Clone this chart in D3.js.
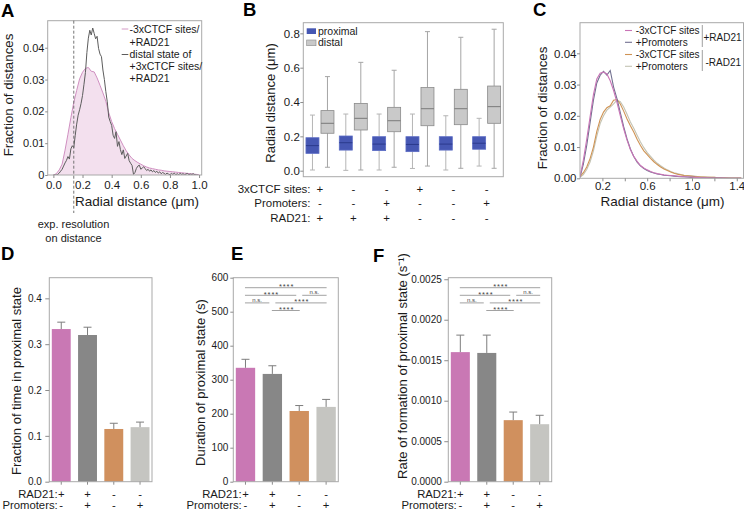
<!DOCTYPE html>
<html><head><meta charset="utf-8">
<script src="https://cdn.jsdelivr.net/npm/d3@7"></script>
<style>body{margin:0;background:#fff}svg{display:block}text{font-family:"Liberation Sans",Arial,Helvetica,sans-serif}</style>
</head><body><svg id="c" width="744" height="512"></svg>
<script>
// ---------- DATA ----------
// Panel A
const aPinkX = [0,0.02,0.04,0.06,0.08,0.10,0.12,0.14,0.16,0.18,0.20,0.22,0.24,0.26,0.28,0.30,0.32,0.34,0.36,0.38,0.40,0.42,0.44,0.46,0.48,0.50,0.52,0.54,0.56,0.58,0.60,0.62,0.64,0.66,0.68,0.70,0.72,0.74,0.76,0.78,0.80,0.82,0.84,0.86,0.88,0.90,0.92,0.94,0.96,0.98,1.00];
const aPinkY = [0,0.0004,0.0016,0.0034,0.0078,0.0128,0.0180,0.0228,0.0266,0.0302,0.0323,0.0335,0.0338,0.0326,0.0324,0.0305,0.0282,0.0258,0.0232,0.0196,0.0168,0.0146,0.0128,0.0110,0.0092,0.0076,0.0063,0.0052,0.0045,0.0039,0.0034,0.0029,0.0025,0.0022,0.0020,0.0018,0.0016,0.0015,0.0013,0.0012,0.0011,0.0010,0.0009,0.0008,0.0007,0.0006,0.0005,0.0004,0.0003,0.0002,0.0001];
const aDistX = [0,0.01,0.02,0.03,0.04,0.05,0.06,0.07,0.08,0.09,0.10,0.11,0.12,0.13,0.14,0.15,0.16,0.17,0.18,0.19,0.20,0.21,0.22,0.23,0.24,0.25,0.26,0.27,0.28,0.29,0.30,0.31,0.32,0.33,0.34,0.35,0.36,0.37,0.38,0.39,0.40,0.41,0.42,0.43,0.44,0.45,0.46,0.47,0.48,0.49,0.50,0.51,0.52,0.53,0.54,0.55,0.56,0.57,0.58,0.59,0.60,0.61,0.62,0.63,0.64,0.65,0.66,0.67,0.68,0.69,0.70,0.71,0.72,0.73,0.74,0.75,0.76,0.77,0.78,0.79,0.80,0.81,0.82,0.83,0.84,0.85,0.86,0.87,0.88,0.89,0.90,0.91,0.92,0.93,0.94,0.95,0.96,0.97,0.98,0.99];
const aDistY = [0,0,0,0.0002,0.0006,0.0012,0.0018,0.0028,0.0038,0.0046,0.0058,0.0050,0.0082,0.0092,0.0086,0.0125,0.0160,0.0188,0.0205,0.0225,0.0250,0.0285,0.0322,0.0385,0.0430,0.0455,0.0440,0.0462,0.0445,0.0428,0.0436,0.0398,0.0380,0.0372,0.0330,0.0300,0.0262,0.0230,0.0182,0.0168,0.0156,0.0125,0.0115,0.0136,0.0090,0.0105,0.0080,0.0064,0.0079,0.0052,0.0060,0.0068,0.0045,0.0037,0.0030,0.0002,0.0008,0.0021,0.0028,0.0031,0.0018,0.0022,0.0026,0.0020,0.0014,0.0018,0.0012,0.0016,0.0010,0.0014,0.0008,0.0012,0.0006,0.0010,0.0004,0.0008,0.0005,0.0002,0.0006,0.0003,0.0001,0.0005,0.0002,0.0006,0.0001,0.0004,0.0001,0.0005,0.0002,0.0004,0.0001,0.0003,0.0005,0.0001,0.0003,0.0002,0.0004,0.0001,0,0];
const aResolution = 0.14;
const aXTicks = [0,0.2,0.4,0.6,0.8,1.0];
const aYTicks = [0,0.01,0.02,0.03,0.04];

// Panel B
const bProxLo  = [0.004,0.002,0.004,0.013,0.004,0.027];
const bProxQ1  = [0.101,0.120,0.117,0.111,0.120,0.125];
const bProxMed = [0.146,0.163,0.155,0.153,0.155,0.160];
const bProxQ3  = [0.192,0.202,0.198,0.198,0.198,0.198];
const bProxHi  = [0.324,0.330,0.330,0.330,0.320,0.305];
const bDistLo  = [0.020,0.004,0.020,0.027,0.014,0.014];
const bDistQ1  = [0.218,0.237,0.227,0.262,0.268,0.276];
const bDistMed = [0.276,0.305,0.291,0.361,0.361,0.373];
const bDistQ3  = [0.350,0.392,0.369,0.484,0.474,0.493];
const bDistHi  = [0.548,0.631,0.585,0.810,0.777,0.824];
const bCTCF = ["+","-","-","+","-","-"];
const bProm = ["-","-","+","-","-","+"];
const bRad  = ["+","+","+","-","-","-"];
const bYTicks = [0,0.2,0.4,0.6,0.8];

// Panel C
const cX = [0,0.03,0.06,0.09,0.12,0.15,0.18,0.21,0.24,0.27,0.30,0.33,0.36,0.39,0.42,0.45,0.48,0.51,0.54,0.57,0.60,0.63,0.66,0.69,0.72,0.75,0.78,0.81,0.84,0.87,0.90,0.93,0.96,0.99,1.02,1.05,1.08,1.11,1.14,1.17,1.20,1.23,1.26,1.29,1.32,1.35,1.38,1.41,1.44];
const cRadCtcf = [0.0005,0.0058,0.0125,0.0197,0.0268,0.0318,0.0336,0.0340,0.0334,0.0312,0.0281,0.0243,0.0200,0.0158,0.0122,0.0092,0.0070,0.0054,0.0041,0.0033,0.0027,0.0022,0.0018,0.0015,0.0013,0.0011,0.0010,0.0009,0.0008,0.0007,0.0006,0.0005,0.0004,0.0004,0.0003,0.0003,0.0002,0.0002,0.0002,0.0001,0.0001,0.0001,0.0001,0.0001,0,0,0,0,0];
const cRadProm = [0.0003,0.0045,0.0105,0.0178,0.0250,0.0305,0.0330,0.0342,0.0330,0.0345,0.0292,0.0255,0.0210,0.0165,0.0126,0.0094,0.0070,0.0052,0.0040,0.0031,0.0025,0.0020,0.0017,0.0014,0.0012,0.0010,0.0009,0.0008,0.0007,0.0006,0.0005,0.0005,0.0004,0.0003,0.0003,0.0002,0.0002,0.0002,0.0001,0.0001,0.0001,0.0001,0.0001,0,0,0,0,0,0];
const cNoRadCtcf = [0.0005,0.0018,0.0036,0.0063,0.0100,0.0150,0.0188,0.0212,0.0226,0.0232,0.0250,0.0252,0.0238,0.0215,0.0190,0.0168,0.0148,0.0125,0.0105,0.0088,0.0076,0.0064,0.0053,0.0044,0.0036,0.0030,0.0025,0.0020,0.0016,0.0013,0.0011,0.0009,0.0008,0.0007,0.0006,0.0005,0.0004,0.0004,0.0003,0.0003,0.0003,0.0002,0.0002,0.0002,0.0001,0.0001,0.0001,0.0001,0.0001];
const cNoRadProm = [0.0003,0.0012,0.0028,0.0052,0.0088,0.0135,0.0175,0.0200,0.0218,0.0228,0.0238,0.0250,0.0245,0.0228,0.0205,0.0180,0.0160,0.0138,0.0116,0.0098,0.0082,0.0070,0.0058,0.0048,0.0040,0.0033,0.0027,0.0022,0.0018,0.0015,0.0012,0.0010,0.0009,0.0008,0.0007,0.0006,0.0005,0.0004,0.0004,0.0003,0.0003,0.0002,0.0002,0.0002,0.0002,0.0001,0.0001,0.0001,0.0001];
const cXTicks = [0.2,0.4,0.6,0.8,1.0,1.2,1.4];
const cXLabels = [0.2,0.6,1.0,1.4];
const cYTicks = [0,0.01,0.02,0.03,0.04];

// Panels D, E, F
const condRad  = ["+","+","-","-"];
const condProm = ["-","+","-","+"];
const dVal = [0.333,0.320,0.115,0.119];
const dErr = [0.015,0.017,0.0125,0.011];
const eVal = [335,317,208,220];
const eErr = [25,24,16,22];
const fVal = [0.00160,0.00159,0.00076,0.00071];
const fErr = [0.00021,0.00022,0.00010,0.00011];
const dYTicks = [0,0.1,0.2,0.3,0.4];
const eYTicks = [0,100,200,300,400,500,600];
const fYTicks = [0,0.0005,0.0010,0.0015,0.0020,0.0025];
// comparisons: [barA, barB, label, level]
const sigTests = [[0,3,"****",0],[0,2,"****",1],[2,3,"n.s.",1],[0,1,"n.s.",2],[1,3,"****",2],[1,2,"****",3]];

// ---------- DRAWING ----------
const FONT = '"Liberation Sans", Arial, Helvetica, sans-serif';
const svg = d3.select("#c");
svg.append("rect").attr("width",744).attr("height",512).attr("fill","#fff");
const FRAME = "#a9a9a9", TICK = "#8c8c8c";
const colPink = "#c978b4", colGray = "#878787", colOrange = "#d0905e", colLight = "#c5c5c1";

function text(x, y, s, o = {}) {
  const t = svg.append("text").attr("x", x).attr("y", y).text(s)
    .style("font-size", (o.fs || 11) + "px").attr("fill", o.fill || "#1a1a1a")
    .attr("text-anchor", o.anchor || "start");
  if (o.bold) t.style("font-weight", "bold");
  if (o.ls) t.style("letter-spacing", o.ls + "px");
  return t;
}
function vtext(x, y, s, fs) {
  svg.append("text").attr("transform", `translate(${x},${y}) rotate(-90)`)
    .attr("text-anchor", "middle").attr("dominant-baseline", "central")
    .style("font-size", fs + "px").attr("fill", "#1a1a1a").text(s);
}
function frame(x0, y0, x1, y1) {
  svg.append("rect").attr("x", x0).attr("y", y0).attr("width", x1 - x0).attr("height", y1 - y0)
    .attr("fill", "none").attr("stroke", FRAME).attr("stroke-width", 1);
}
function styleAxis(g, fs) {
  g.select(".domain").remove();
  g.selectAll(".tick line").attr("stroke", TICK);
  g.selectAll(".tick text").attr("fill", "#1a1a1a").style("font-size", fs + "px").style("font-family", FONT);
}
function clip(id, x0, y0, x1, y1) {
  svg.append("clipPath").attr("id", id).append("rect").attr("x", x0).attr("y", y0).attr("width", x1 - x0).attr("height", y1 - y0);
}

// ===== Panel A =====
{
  const L = 47.7, T = 20.7, R = 201.7, B = 175;
  const x = d3.scaleLinear([-0.039, 1.018], [L, R]);
  const y = d3.scaleLinear([0, 0.0485], [B, T]);
  clip("clipA", L, T, R, B);
  const pink = aPinkX.map((v, i) => [v, aPinkY[i]]);
  const dist = aDistX.map((v, i) => [v, aDistY[i]]);
  const gA = svg.append("g").attr("clip-path", "url(#clipA)");
  gA.append("path").datum(pink).attr("fill", "#f3e0ee")
    .attr("d", d3.area().x(d => x(d[0])).y0(y(0)).y1(d => y(d[1])));
  gA.append("path").datum(pink).attr("fill", "none").attr("stroke", "#cf8fc0").attr("stroke-width", 1)
    .attr("d", d3.line().x(d => x(d[0])).y(d => y(d[1])));
  gA.append("path").datum(dist).attr("fill", "none").attr("stroke", "#5c5c5c").attr("stroke-width", 1)
    .attr("d", d3.line().x(d => x(d[0])).y(d => y(d[1])));
  frame(L, T, R, B);
  svg.append("line").attr("x1", x(aResolution)).attr("x2", x(aResolution)).attr("y1", T).attr("y2", 213)
    .attr("stroke", "#666").attr("stroke-width", 0.9).attr("stroke-dasharray", "3,2");
  styleAxis(svg.append("g").attr("transform", `translate(${L},0)`)
    .call(d3.axisLeft(y).tickValues(aYTicks).tickSize(2.5).tickPadding(0.8).tickFormat(d => d === 0 ? "0" : d3.format(".2f")(d))), 11);
  styleAxis(svg.append("g").attr("transform", `translate(0,${B})`)
    .call(d3.axisBottom(x).tickValues(aXTicks).tickSize(3).tickPadding(2.5).tickFormat(d3.format(".1f"))), 11.5);
  vtext(8.5, 95, "Fraction of distances", 13.3);
  text(137, 206, "Radial distance (μm)", { fs: 13.5, anchor: "middle" });
  text(73.5, 228, "exp. resolution", { fs: 11, anchor: "middle" });
  text(73.5, 242, "on distance", { fs: 11, anchor: "middle" });
  // legend
  svg.append("line").attr("x1", 121.7).attr("x2", 128.3).attr("y1", 29).attr("y2", 29).attr("stroke", "#d49ac6").attr("stroke-width", 1);
  svg.append("line").attr("x1", 121.7).attr("x2", 128.3).attr("y1", 54.5).attr("y2", 54.5).attr("stroke", "#5c5c5c").attr("stroke-width", 1);
  const leg = ["-3xCTCF sites/", "+RAD21", "distal state of", "+3xCTCF sites/", "+RAD21"];
  const legY = [32.5, 45.5, 58, 70, 82];
  leg.forEach((s, i) => text(129.5, legY[i], s, { fs: 10.5 }));
  text(1, 17, "A", { fs: 18.5, bold: true, fill: "#000" });
}

// ===== Panel B =====
{
  const L = 303.3, T = 22.7, R = 503.3, B = 176.7;
  const y = d3.scaleLinear([-0.035, 0.862], [B, T]);
  const x = d3.scaleBand(d3.range(6), [L, R]);
  const bw = 13, off = 7.5;
  const groups = d3.range(6);
  function boxes(dx, lo, q1, med, q3, hi, fill, stroke, medCol, whisk) {
    const g = svg.append("g");
    groups.forEach(i => {
      const cx = x(i) + x.bandwidth() / 2 + dx;
      g.append("line").attr("x1", cx).attr("x2", cx).attr("y1", y(hi[i])).attr("y2", y(q3[i])).attr("stroke", whisk).attr("stroke-width", 1);
      g.append("line").attr("x1", cx).attr("x2", cx).attr("y1", y(q1[i])).attr("y2", y(lo[i])).attr("stroke", whisk).attr("stroke-width", 1);
      g.append("line").attr("x1", cx - 2.5).attr("x2", cx + 2.5).attr("y1", y(hi[i])).attr("y2", y(hi[i])).attr("stroke", whisk);
      g.append("line").attr("x1", cx - 2.5).attr("x2", cx + 2.5).attr("y1", y(lo[i])).attr("y2", y(lo[i])).attr("stroke", whisk);
      g.append("rect").attr("x", cx - bw / 2).attr("y", y(q3[i])).attr("width", bw).attr("height", y(q1[i]) - y(q3[i]))
        .attr("fill", fill).attr("stroke", stroke).attr("stroke-width", 0.8);
      g.append("line").attr("x1", cx - bw / 2).attr("x2", cx + bw / 2).attr("y1", y(med[i])).attr("y2", y(med[i])).attr("stroke", medCol).attr("stroke-width", 1);
    });
  }
  boxes(-off, bProxLo, bProxQ1, bProxMed, bProxQ3, bProxHi, "#4657b3", "#5a6bc4", "#2b3a8c", "#b5b5b5");
  boxes(off, bDistLo, bDistQ1, bDistMed, bDistQ3, bDistHi, "#c9c9c9", "#8a8a8a", "#7a7a7a", "#a5a5a5");
  frame(L, T, R, B);
  styleAxis(svg.append("g").attr("transform", `translate(${L},0)`)
    .call(d3.axisLeft(y).tickValues(bYTicks).tickSize(3).tickPadding(0.5).tickFormat(d3.format(".1f"))), 11.5);
  vtext(270, 103, "Radial distance (μm)", 13);
  // legend
  svg.append("rect").attr("x", 306.7).attr("y", 28.3).attr("width", 9.3).attr("height", 5.7).attr("fill", "#4657b3");
  svg.append("rect").attr("x", 306.7).attr("y", 40).attr("width", 9.3).attr("height", 5.7).attr("fill", "#c9c9c9").attr("stroke", "#8a8a8a").attr("stroke-width", 0.6);
  text(318, 34.5, "proximal", { fs: 10.5 });
  text(318, 46.3, "distal", { fs: 10.5 });
  // condition rows
  const rows = [["3xCTCF sites:", bCTCF, 192.5], ["Promoters:", bProm, 207.2], ["RAD21:", bRad, 221.8]];
  rows.forEach(([lab, vals, yy]) => {
    text(310.5, yy, lab, { fs: 11.5, anchor: "end" });
    vals.forEach((v, i) => text(x(i) + x.bandwidth() / 2, yy, v, { fs: 11.5, anchor: "middle" }));
  });
  text(243, 16, "B", { fs: 18.5, bold: true, fill: "#000" });
}

// ===== Panel C =====
{
  const L = 580, T = 22.7, R = 743.5, B = 178.3;
  const x = d3.scaleLinear([0, 1.46], [L, R]);
  const y = d3.scaleLinear([0, 0.0498], [B, T]);
  clip("clipC", L, T, R, B);
  const g = svg.append("g").attr("clip-path", "url(#clipC)");
  const series = [[cNoRadProm, "#c3c3b3"], [cNoRadCtcf, "#cf9354"], [cRadProm, "#727090"], [cRadCtcf, "#c974b6"]];
  series.forEach(([vals, col]) => {
    g.append("path").datum(cX.map((v, i) => [v, vals[i]])).attr("fill", "none").attr("stroke", col).attr("stroke-width", 1.1)
      .attr("d", d3.line().x(d => x(d[0])).y(d => y(d[1])));
  });
  frame(L, T, R, B);
  styleAxis(svg.append("g").attr("transform", `translate(${L},0)`)
    .call(d3.axisLeft(y).tickValues(cYTicks).tickSize(3).tickPadding(0.5).tickFormat(d3.format(".2f"))), 11.5);
  styleAxis(svg.append("g").attr("transform", `translate(0,${B})`)
    .call(d3.axisBottom(x).tickValues(cXTicks).tickSize(3).tickPadding(0.5)
      .tickFormat(d => cXLabels.some(v => Math.abs(v - d) < 1e-9) ? d3.format(".1f")(d) : "")), 11.5);
  vtext(542.5, 108, "Fraction of distances", 13.3);
  text(662.5, 206, "Radial distance (μm)", { fs: 13.5, anchor: "middle" });
  const legCols = ["#c974b6", "#727090", "#cf9354", "#c3c3b3"];
  const legTxt = ["-3xCTCF sites", "+Promoters", "-3xCTCF sites", "+Promoters"];
  const legY = [34, 45.8, 58, 69.8];
  legTxt.forEach((s, i) => {
    svg.append("line").attr("x1", 625).attr("x2", 632).attr("y1", legY[i] - 3.5).attr("y2", legY[i] - 3.5).attr("stroke", legCols[i]).attr("stroke-width", 1.1);
    text(635.7, legY[i], s, { fs: 10 });
  });
  svg.append("line").attr("x1", 702.3).attr("x2", 702.3).attr("y1", 25).attr("y2", 47).attr("stroke", "#888").attr("stroke-width", 0.8);
  svg.append("line").attr("x1", 702.3).attr("x2", 702.3).attr("y1", 50).attr("y2", 71).attr("stroke", "#888").attr("stroke-width", 0.8);
  text(703.5, 40.5, "+RAD21", { fs: 10 });
  text(705.5, 66, "-RAD21", { fs: 10 });
  text(533, 16, "C", { fs: 18.5, bold: true, fill: "#000" });
}

// ===== Panels D, E, F =====
function barPanel(o) {
  const { L, T = 277.7, R, B = 481.7, domainTop, vals, errs, ticks, fmt, ylab, ylx, yly, title, tx, ty, lPad, tSize, sig } = o;
  const y = d3.scaleLinear([0, domainTop], [B, T]);
  const x = d3.scaleBand(d3.range(4), [L + 2.5, R - 2.5]).paddingInner(0.28).paddingOuter(0);
  const cols = [colPink, colGray, colOrange, colLight];
  vals.forEach((v, i) => {
    const cx = x(i) + x.bandwidth() / 2;
    svg.append("rect").attr("x", x(i)).attr("y", y(v)).attr("width", x.bandwidth()).attr("height", y(0) - y(v)).attr("fill", cols[i]);
    svg.append("line").attr("x1", cx).attr("x2", cx).attr("y1", y(v)).attr("y2", y(v + errs[i])).attr("stroke", "#7d7d7d").attr("stroke-width", 1);
    svg.append("line").attr("x1", cx - 4).attr("x2", cx + 4).attr("y1", y(v + errs[i])).attr("y2", y(v + errs[i])).attr("stroke", "#7d7d7d").attr("stroke-width", 1);
  });
  frame(L, T, R, B);
  styleAxis(svg.append("g").attr("transform", `translate(${L},0)`)
    .call(d3.axisLeft(y).tickValues(ticks).tickSize(tSize).tickPadding(lPad).tickFormat(fmt)), 10);
  const bx = svg.append("g").attr("transform", `translate(0,${B})`)
    .call(d3.axisBottom(x).tickSize(3).tickFormat(""));
  styleAxis(bx, 10);
  vtext(ylx, yly, ylab, 13);
  [["RAD21:", condRad, 497.8], ["Promoters:", condProm, 508.8]].forEach(([lab, vs, yy]) => {
    text(L + 8.4, yy, lab, { fs: 11.3, anchor: "end" });
    vs.forEach((v, i) => text(x(i) + x.bandwidth() / 2, yy, v, { fs: 11.3, anchor: "middle" }));
  });
  if (sig) {
    sigTests.forEach(([a, b, lab, lev]) => {
      const shared = (k) => sigTests.some(s => s[3] === lev && (s[0] === k || s[1] === k) && !(s[0] === a && s[1] === b));
      const x1 = x(a) + x.bandwidth() / 2 + (shared(a) ? 3 : -0.5);
      const x2 = x(b) + x.bandwidth() / 2 - (shared(b) ? 3 : -0.5);
      const yy = T + 10 + lev * 7.6;
      svg.append("line").attr("x1", x1).attr("x2", x2).attr("y1", yy).attr("y2", yy).attr("stroke", "#7a7a7a").attr("stroke-width", 0.7);
      if (lab === "n.s.") text((x1 + x2) / 2, yy - 1.3, lab, { fs: 6, anchor: "middle", fill: "#444" });
      else text((x1 + x2) / 2 + 0.8, yy + 1.2, lab, { fs: 7.5, anchor: "middle", fill: "#444", ls: 0.9 });
    });
  }
  text(tx, ty, title, { fs: 18.5, bold: true, fill: "#000" });
}
barPanel({ L: 49.3, R: 152, domainTop: 0.445, vals: dVal, errs: dErr, ticks: dYTicks, fmt: d3.format(".1f"),
  ylab: "Fraction of time in proximal state", ylx: 16.7, yly: 381, title: "D", tx: 1, ty: 260, lPad: 3.5, tSize: 4, sig: false });
barPanel({ L: 233.3, R: 338.3, domainTop: 600, vals: eVal, errs: eErr, ticks: eYTicks, fmt: d3.format("d"),
  ylab: "Duration of proximal state (s)", ylx: 200, yly: 382.5, title: "E", tx: 231, ty: 260, lPad: 2, tSize: 3, sig: true });
barPanel({ L: 448.3, R: 551.7, domainTop: 0.002519, vals: fVal, errs: fErr, ticks: fYTicks, fmt: d3.format(".4f"),
  ylab: "Rate of formation of proximal state (s⁻¹)", ylx: 402.5, yly: 366, title: "F", tx: 373, ty: 262, lPad: 2.5, tSize: 4, sig: true });
</script>
</body></html>
